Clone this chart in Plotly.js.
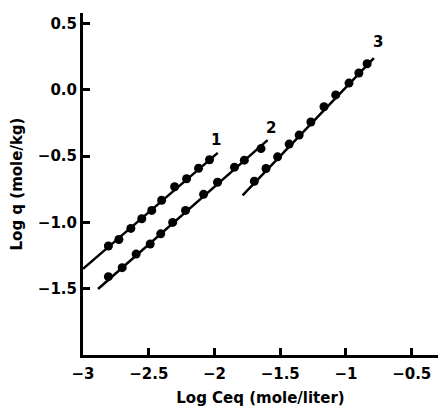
<!DOCTYPE html>
<html>
<head>
<meta charset="utf-8">
<script src="https://cdn.plot.ly/plotly-3.0.1.min.js"></script>
<style>html,body{margin:0;padding:0;background:#fff;}#chart{width:438px;height:407px;}</style>
</head>
<body>
<div id="chart"></div>
<script>
// Measured points (Log Ceq, Log q)
const x1 = [-2.807, -2.727, -2.636, -2.553, -2.477, -2.402, -2.303, -2.212, -2.121, -2.038];
const y1 = [-1.178, -1.129, -1.045, -0.972, -0.909, -0.833, -0.731, -0.670, -0.591, -0.527];
const x2 = [-2.807, -2.702, -2.596, -2.489, -2.409, -2.318, -2.220, -2.083, -1.977, -1.848, -1.773, -1.646];
const y2 = [-1.409, -1.341, -1.239, -1.163, -1.086, -1.000, -0.909, -0.788, -0.697, -0.583, -0.530, -0.443];
const x3 = [-1.697, -1.608, -1.520, -1.432, -1.356, -1.267, -1.167, -1.078, -0.977, -0.902, -0.839];
const y3 = [-0.689, -0.593, -0.505, -0.409, -0.341, -0.242, -0.127, -0.038, 0.051, 0.127, 0.197];
// Fitted straight lines (endpoints)
const fitX1 = [-3.0, -1.975];
const fitY1 = [-1.35, -0.475];
const fitX2 = [-2.886, -1.596];
const fitY2 = [-1.502, -0.379];
const fitX3 = [-1.786, -0.788];
const fitY3 = [-0.795, 0.240];
// Curve labels
const labelText = ["1", "2", "3"];
const labelX = [-1.985, -1.57, -0.76];
const labelY = [-0.38, -0.29, 0.36];
// Axis ticks
const xTickVals = [-3, -2.5, -2, -1.5, -1, -0.5];
const xTickText = ["\u22123", "\u22122.5", "\u22122", "\u22121.5", "\u22121", "\u22120.5"];
const yTickVals = [0.5, 0.0, -0.5, -1.0, -1.5];
const yTickText = ["0.5", "0.0", "\u22120.5", "\u22121.0", "\u22121.5"];

const lineStyle = {color: "#000", width: 2.5};
const markerStyle = {color: "#000", size: 9, symbol: "circle"};

const traces = [
  {x: fitX1, y: fitY1, mode: "lines", line: lineStyle, hoverinfo: "skip"},
  {x: fitX2, y: fitY2, mode: "lines", line: lineStyle, hoverinfo: "skip"},
  {x: fitX3, y: fitY3, mode: "lines", line: lineStyle, hoverinfo: "skip"},
  {x: x1, y: y1, mode: "markers", marker: markerStyle},
  {x: x2, y: y2, mode: "markers", marker: markerStyle},
  {x: x3, y: y3, mode: "markers", marker: markerStyle}
];

const fontFam = "DejaVu Sans, Liberation Sans, sans-serif";
const annotations = labelText.map((t, i) => ({
  x: labelX[i], y: labelY[i], text: t, showarrow: false,
  font: {family: fontFam, size: 15, color: "#000", weight: "bold"}
}));

const layout = {
  width: 438, height: 407,
  margin: {l: 83, r: 0, t: 13, b: 52},
  paper_bgcolor: "#fff", plot_bgcolor: "#fff",
  showlegend: false,
  font: {family: fontFam, color: "#000", size: 15},
  xaxis: {
    range: [-3, -0.3], showgrid: false, zeroline: false,
    showline: true, linecolor: "#000", linewidth: 3,
    ticks: "inside", ticklen: 7, tickwidth: 3, tickcolor: "#000",
    tickvals: xTickVals, ticktext: xTickText, ticklabelstandoff: 3,
    tickfont: {family: fontFam, size: 15, weight: "bold"},
    title: {text: "Log Ceq (mole/liter)", font: {family: fontFam, size: 15, weight: "bold"}, standoff: 12}
  },
  yaxis: {
    range: [-2.0, 0.58], showgrid: false, zeroline: false,
    showline: true, linecolor: "#000", linewidth: 3,
    ticks: "inside", ticklen: 7, tickwidth: 3, tickcolor: "#000",
    tickvals: yTickVals, ticktext: yTickText,
    tickfont: {family: fontFam, size: 15, weight: "bold"},
    title: {text: "Log q (mole/kg)", font: {family: fontFam, size: 15, weight: "bold"}, standoff: 12}
  },
  annotations: annotations
};

Plotly.newPlot("chart", traces, layout, {displayModeBar: false, staticPlot: true});
</script>
</body>
</html>
